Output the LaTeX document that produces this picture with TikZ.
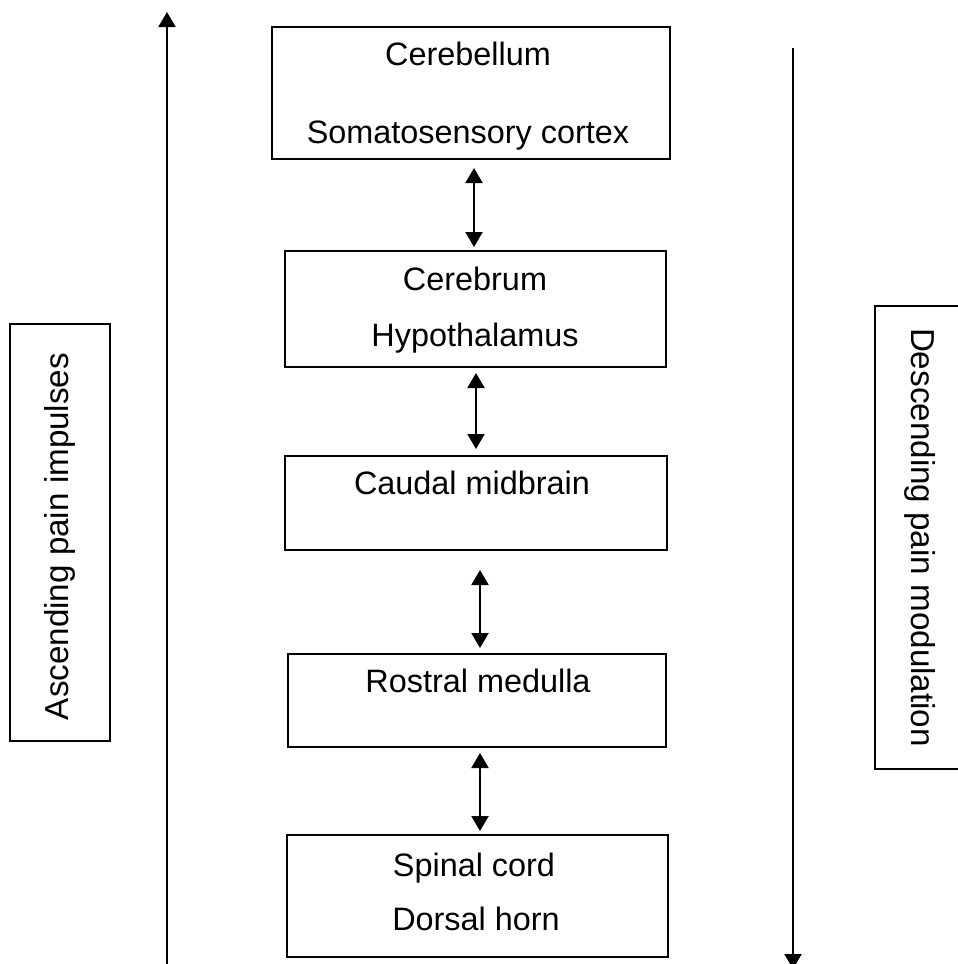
\documentclass[tikz,border=0pt]{standalone}
\usepackage{fontspec}
\setmainfont{Liberation Sans}
\usetikzlibrary{arrows.meta}
\begin{document}
\begin{tikzpicture}[x=0.5pt,y=-0.5pt,
  box/.style={draw,line width=1.1pt,inner sep=0pt,outer sep=0pt},
  txt/.style={anchor=base,inner sep=0pt,font=\fontsize{16.2pt}{19pt}\selectfont},
  rtxt/.style={inner sep=0pt,font=\fontsize{16.6pt}{19pt}\selectfont},
  arr/.style={line width=1.1pt,-{Triangle[length=7.5pt,width=8.5pt]}},
  dbl/.style={line width=1.1pt,{Triangle[length=7.5pt,width=8.5pt]}-{Triangle[length=7.5pt,width=8.5pt]}}]
\useasboundingbox (0,0) rectangle (958,964);
\clip (0,0) rectangle (958,964);
% boxes
\node[box,minimum width=199pt,minimum height=66pt] (b1) at (471,93) {};
\node[box,minimum width=190.5pt,minimum height=58pt] (b2) at (475.5,309) {};
\node[box,minimum width=191pt,minimum height=47pt] (b3) at (476,503) {};
\node[box,minimum width=189pt,minimum height=46.5pt] (b4) at (477,700.5) {};
\node[box,minimum width=190.5pt,minimum height=61pt] (b5) at (477.5,896) {};
\node[box,minimum width=50pt,minimum height=208.5pt] (lb) at (60,532.5) {};
\node[box,minimum width=47.5pt,minimum height=231.5pt] (rb) at (922.5,537.5) {};
% texts
\node[txt] (t1a) at (468,65) {Cerebellum};
\node[txt] (t1b) at (468,143) {Somatosensory cortex};
\node[txt] (t2a) at (475,290) {Cerebrum};
\node[txt] (t2b) at (475,346) {Hypothalamus};
\node[txt] (t3) at (472,494) {Caudal midbrain};
\node[txt] (t4) at (478,692) {Rostral medulla};
\node[txt] (t5a) at (474,876) {Spinal cord};
\node[txt] (t5b) at (476,930) {Dorsal horn};
\node[rtxt,rotate=90] (lt) at ([yshift=-2pt]lb.center) {Ascending pain impulses};
\node[rtxt,rotate=-90] (rt) at ([xshift=-1pt]rb.center) {Descending pain modulation};
% long arrows
\coordinate (la0) at (167,966);
\coordinate (la1) at (167,12);
\coordinate (ra0) at (793,48);
\coordinate (ra1) at (793,969);
\draw[arr] (la0) -- (la1);
\draw[arr] (ra0) -- (ra1);
% double arrows
\draw[dbl,shorten <=4.5pt,shorten >=2pt] (b1.south -| 474,0) -- (b2.north -| 474,0);
\draw[dbl,shorten <=3pt,shorten >=3.5pt] (b2.south -| 476,0) -- (b3.north -| 476,0);
\draw[dbl,shorten <=10pt,shorten >=3pt] (b3.south -| 480,0) -- (b4.north -| 480,0);
\draw[dbl,shorten <=3pt,shorten >=2pt] (b4.south -| 480,0) -- (b5.north -| 480,0);
\end{tikzpicture}
\end{document}
